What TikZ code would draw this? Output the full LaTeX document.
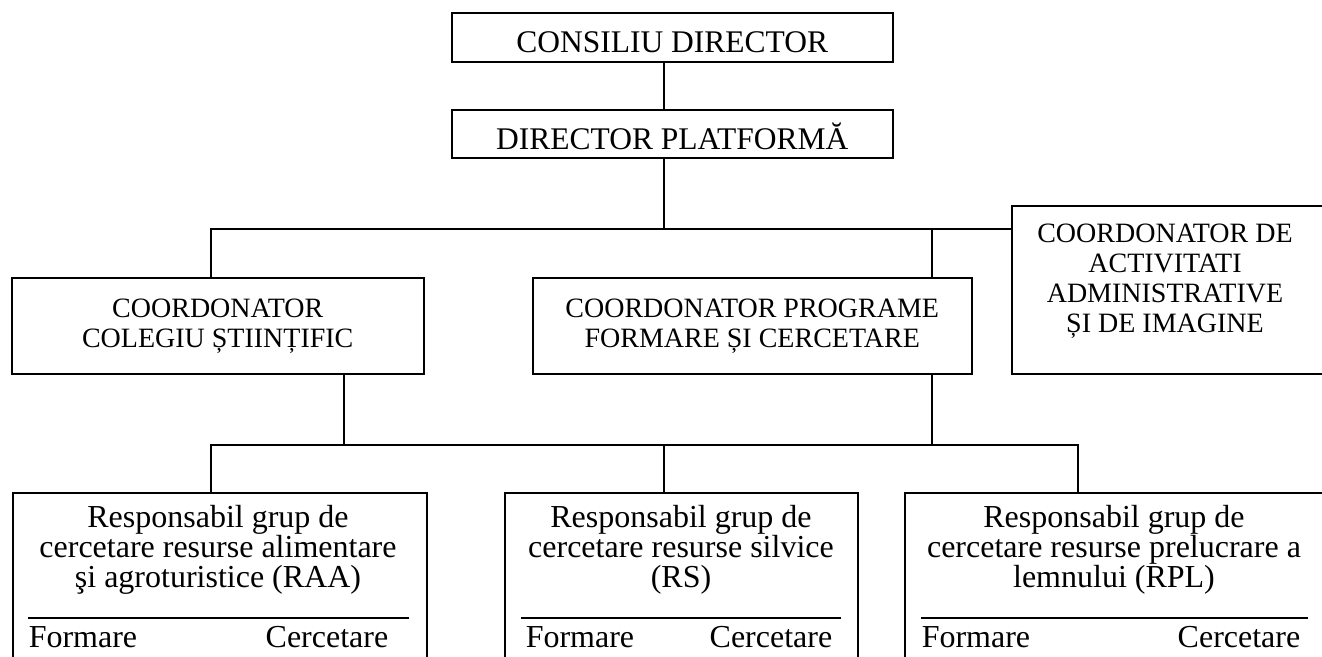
\documentclass[tikz,border=0pt]{standalone}
\usepackage{fontspec}
\setmainfont{Liberation Serif}
\tikzset{
  box/.style={draw, anchor=north west, inner sep=0pt},
  toptext/.style={font=\fontsize{31.5}{34}\selectfont, text height=31pt},
  coordtext/.style={font=\fontsize{28}{30}\selectfont, align=center},
  grptext/.style={font=\fontsize{32}{30}\selectfont, align=center, anchor=north, inner sep=0pt},
  coltext/.style={font=\fontsize{32}{30}\selectfont, inner sep=0pt}
}
\begin{document}
\begin{tikzpicture}[x=1pt, y=-1pt, line width=1.5pt]
\useasboundingbox (0,0) rectangle (1322,656);
\clip (0,0) rectangle (1322,656);

% conducere
\node[box, toptext, minimum width=441pt, minimum height=49pt] (consiliu) at (451,12) {CONSILIU DIRECTOR};
\node[box, toptext, minimum width=441pt, minimum height=48pt] (director) at (451,109) {DIRECTOR PLATFORMĂ};

% coordonatori
\node[box, coordtext, minimum width=412pt, minimum height=96pt] (colegiu) at (11,277) {COORDONATOR\\COLEGIU ȘTIINȚIFIC};
\node[box, coordtext, minimum width=439pt, minimum height=96pt] (programe) at (532,277) {COORDONATOR PROGRAME\\FORMARE ȘI CERCETARE};
\node[box, minimum width=330pt, minimum height=168pt] (adm) at (1011,205) {};
\node[coordtext, anchor=north, inner sep=0pt] (admtext) at (1165,223) {COORDONATOR DE\\ACTIVITATI\\ADMINISTRATIVE\\ȘI DE IMAGINE};

% grupuri de cercetare
\node[box, minimum width=414pt, minimum height=200pt] (raa) at (12,492) {};
\node[box, minimum width=353pt, minimum height=200pt] (rs) at (504,492) {};
\node[box, minimum width=440pt, minimum height=200pt] (rpl) at (904,492) {};
\node[grptext] (raatext) at (218,505) {Responsabil grup de\\cercetare resurse alimentare\\şi agroturistice (RAA)};
\node[grptext] (rstext) at (681,505) {Responsabil grup de\\cercetare resurse silvice\\(RS)};
\node[grptext] (rpltext) at (1114,505) {Responsabil grup de\\cercetare resurse prelucrare a\\lemnului (RPL)};

\draw (28,618) -- (409,618);
\draw (521,618) -- (841,618);
\draw (921,618) -- (1308,618);
\node[coltext, anchor=base west] (raaf) at (28,647) {Formare};
\node[coltext, anchor=base east] (raac) at (389,647) {Cercetare};
\node[coltext, anchor=base west] (rsf) at (525,647) {Formare};
\node[coltext, anchor=base east] (rsc) at (833,647) {Cercetare};
\node[coltext, anchor=base west] (rplf) at (921,647) {Formare};
\node[coltext, anchor=base east] (rplc) at (1301,647) {Cercetare};

% legaturi
\coordinate (ub) at (0,229);
\coordinate (lb) at (0,445);
\coordinate (colL) at (211,0);
\coordinate (colC) at (344,0);
\coordinate (trunk) at (664,0);
\coordinate (colP) at (932,0);
\coordinate (colR) at (1078,0);
\draw (consiliu.south -| trunk) -- (director.north -| trunk);
\draw (director.south -| trunk) -- (trunk |- ub);
\draw (colegiu.north -| colL) -- (colL |- ub) -- (adm.west |- ub);
\draw (colP |- ub) -- (programe.north -| colP);
\draw (colegiu.south -| colC) -- (colC |- lb);
\draw (programe.south -| colP) -- (colP |- lb);
\draw (raa.north -| colL) -- (colL |- lb) -- (colR |- lb) -- (rpl.north -| colR);
\draw (trunk |- lb) -- (rs.north -| trunk);
\end{tikzpicture}
\end{document}
